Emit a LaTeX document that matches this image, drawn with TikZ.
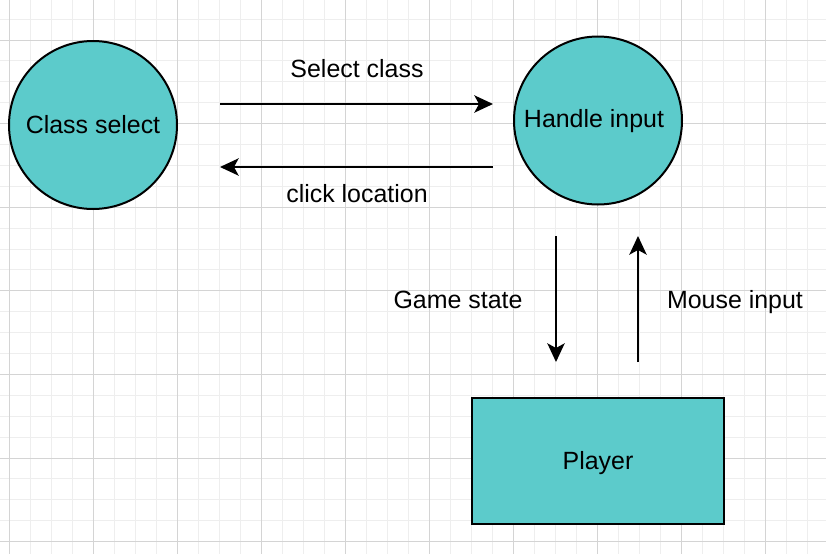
\documentclass[tikz,border=0pt]{standalone}
\usepackage{fontspec}
\setmainfont{Liberation Sans}
\usetikzlibrary{arrows.meta,positioning}
\definecolor{tealfill}{HTML}{5CCBCB}
\definecolor{gridminor}{HTML}{EEEEEE}
\definecolor{gridmajor}{HTML}{D4D4D4}
\tikzset{
  bubble/.style = {circle, draw=black, line width=1.5pt, fill=tealfill, minimum size=126pt, inner sep=0pt, font=\fontsize{18.7}{22}\selectfont},
  playerbox/.style = {rectangle, draw=black, line width=2pt, fill=tealfill, minimum width=189pt, minimum height=94.5pt, font=\fontsize{18.7}{22}\selectfont},
  flowlabel/.style = {font=\fontsize{18.7}{22}\selectfont, inner sep=0pt},
  flow/.style = {line width=1.5pt, -{Stealth[length=14pt, width=13pt, inset=3.5pt]}}
}

\begin{document}
\begin{tikzpicture}[x=0.75pt, y=-0.75pt]

        \useasboundingbox (0,0) rectangle (826,554);
        \fill[white] (0,0) rectangle (826,554);

        % grid
        \foreach \gx in {0,...,39} {
            \draw[gridminor, line width=0.75pt] (9+21*\gx-21,0) -- (9+21*\gx-21,554);
        }
        \foreach \gy in {0,...,27} {
            \draw[gridminor, line width=0.75pt] (0,40+20.9*\gy-20.9) -- (826,40+20.9*\gy-20.9);
        }
        \foreach \gx in {0,...,9} {
            \draw[gridmajor, line width=0.75pt] (9+84*\gx,0) -- (9+84*\gx,554);
        }
        \foreach \gy in {0,...,6} {
            \draw[gridmajor, line width=0.75pt] (0,40+83.6*\gy) -- (826,40+83.6*\gy);
        }

        \node (classsel) [bubble] at (93,125) {Class select};
        \node (handle) [bubble] at (598,120.5) {};
        \node (handletext) [flowlabel] at (594,121) {Handle input};
        \node (player) [playerbox] at (598,461) {};
        \node (playertext) [flowlabel] at (598,463) {Player};

        \coordinate (selA) at (220,104);
        \coordinate (selB) at (493,104);
        \coordinate (clkA) at (493,167);
        \coordinate (clkB) at (220,167);
        \coordinate (gameA) at (556,236);
        \coordinate (gameB) at (556,362);
        \coordinate (mouseA) at (638,362);
        \coordinate (mouseB) at (638,236);

        \draw[flow] (selA) -- (selB);
        \draw[flow] (clkA) -- (clkB);
        \draw[flow] (gameA) -- (gameB);
        \draw[flow] (mouseA) -- (mouseB);

        \node (sellabel) [flowlabel] at (357,69) {Select class};
        \node (clklabel) [flowlabel] at (357,194) {click location};
        \node (gamelabel) [flowlabel] at (458,300) {Game state};
        \node (mouselabel) [flowlabel] at (735,302) {Mouse input};

    \end{tikzpicture}
\end{document}
